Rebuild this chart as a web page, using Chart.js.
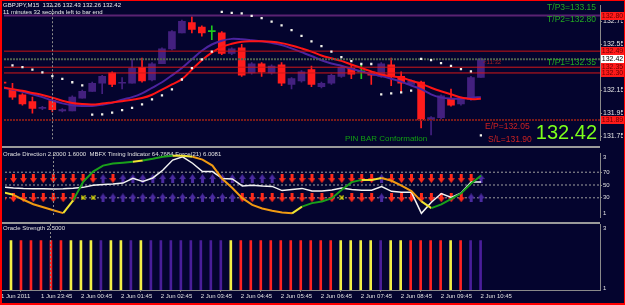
<!DOCTYPE html>
<html><head><meta charset="utf-8">
<script src="https://cdn.jsdelivr.net/npm/chart.js@4.4.1/dist/chart.umd.min.js"></script>
<style>
html,body{margin:0;padding:0;background:#04042e;}
#wrap{position:relative;width:625px;height:305px;background:#04042e;overflow:hidden;}
#wrap canvas{position:absolute;left:0;}
.sep{position:absolute;left:2px;width:598px;height:2px;background:#9a9a9a;}
#frame{position:absolute;left:0;top:0;width:625px;height:305px;box-sizing:border-box;border-left:2px solid #ff0000;border-top:1px solid #ff0000;border-bottom:2px solid #ff0000;border-right:1px solid #ff0000;pointer-events:none;}
</style></head>
<body>
<div id="wrap">
<canvas id="cMain" width="625" height="146" style="top:0"></canvas>
<div class="sep" style="top:146px"></div>
<canvas id="cDir" width="625" height="74" style="top:148px"></canvas>
<div class="sep" style="top:222px"></div>
<canvas id="cStr" width="625" height="79" style="top:224px"></canvas>
<div id="frame"></div>
</div>
<script>
// ================= DATA =================
const symbol = 'GBPJPY', period = 'M15';
const timerText = '11 minutes 32 seconds left to bar end';
const firstBar = -1; // first (partly visible) bar index: 1 Jun 22:45
const tickBars   = [-1, 3, 7, 11, 15, 19, 23, 27, 31, 35, 39, 43, 47];
const tickLabels = ['1 Jun 2011','1 Jun 23:45','2 Jun 00:45','2 Jun 01:45','2 Jun 02:45','2 Jun 03:45','2 Jun 04:45','2 Jun 05:45','2 Jun 06:45','2 Jun 07:45','2 Jun 08:45','2 Jun 09:45','2 Jun 10:45'];
const dayBreakBar = 4; // 2 Jun 00:00

const open  = [132.22,132.15,132.11,132.05,131.99,132.06,131.97,131.97,132.08,132.14,132.21,132.30,132.21,132.21,132.35,132.24,132.38,132.51,132.65,132.74,132.70,132.66,132.65,132.47,132.52,132.30,132.38,132.30,132.37,132.20,132.23,132.33,132.18,132.21,132.27,132.34,132.31,132.30,132.27,132.37,132.27,132.20,132.22,131.89,131.91,132.07,132.03,132.07,132.26];
const high  = [132.23,132.21,132.12,132.09,132.01,132.08,131.99,132.10,132.15,132.22,132.28,132.31,132.26,132.42,132.43,132.39,132.52,132.67,132.76,132.79,132.71,132.71,132.66,132.52,132.55,132.39,132.39,132.37,132.39,132.26,132.32,132.36,132.22,132.29,132.36,132.37,132.37,132.31,132.39,132.43,132.31,132.24,132.23,131.92,132.11,132.16,132.09,132.27,132.43];
const low   = [132.20,132.07,132.02,131.95,131.98,131.96,131.96,131.97,132.08,132.14,132.12,132.18,132.16,132.21,132.22,132.23,132.38,132.50,132.65,132.65,132.62,132.59,132.46,132.46,132.27,132.29,132.27,132.29,132.19,132.16,132.22,132.18,132.17,132.20,132.26,132.25,132.25,132.20,132.26,132.19,132.13,132.19,131.82,131.76,131.90,132.01,132.02,132.06,132.26];
const close = [132.21,132.09,132.03,131.99,132.00,131.98,131.98,132.09,132.14,132.21,132.27,132.20,132.215,132.34,132.23,132.38,132.51,132.66,132.75,132.68,132.65,132.66,132.47,132.51,132.28,132.38,132.31,132.36,132.21,132.25,132.31,132.20,132.21,132.28,132.35,132.29,132.31,132.28,132.38,132.27,132.21,132.23,131.89,131.91,132.10,132.02,132.08,132.26,132.42];

const maRed    = [132.176,132.159,132.144,132.126,132.108,132.085,132.058,132.039,132.029,132.025,132.033,132.043,132.053,132.067,132.081,132.110,132.155,132.200,132.246,132.329,132.411,132.477,132.527,132.554,132.572,132.576,132.576,132.572,132.560,132.539,132.514,132.486,132.452,132.428,132.405,132.374,132.343,132.314,132.287,132.271,132.260,132.233,132.205,132.171,132.141,132.114,132.086,132.072,132.075];
const maPurple = [132.171,132.155,132.136,132.114,132.089,132.060,132.035,132.019,132.012,132.012,132.023,132.039,132.067,132.089,132.122,132.171,132.219,132.279,132.343,132.419,132.494,132.548,132.581,132.597,132.593,132.585,132.576,132.562,132.543,132.514,132.481,132.448,132.411,132.382,132.362,132.337,132.314,132.291,132.273,132.250,132.224,132.191,132.159,132.114,132.085,132.076,132.076,132.085,132.089];
const sar      = [132.389,132.367,132.351,132.329,132.306,132.273,132.248,132.219,132.191,131.936,131.940,131.954,131.976,131.996,132.027,132.070,132.104,132.157,132.243,132.343,132.419,132.486,132.833,132.824,132.819,132.797,132.777,132.748,132.714,132.673,132.624,132.576,132.533,132.486,132.438,132.403,132.378,132.378,132.114,132.122,132.130,132.145,132.422,132.411,132.386,132.362,132.334,132.314,131.756];

const priceTicks  = [131.75, 131.95, 132.15, 132.55, 132.75];
const levelPrices = [132.80, 132.49, 132.42, 132.35, 132.30, 131.89];
const targetNames  = ['T/P3', 'T/P2', 'T/P1', 'E/P', 'S/L'];
const targetValues = [133.15, 132.80, 132.35, 132.05, 131.90];
const patternText = 'PIN BAR Conformation';

// Oracle Direction window
const whiteLine = [46.8,45.4,44.5,44.0,44.0,43.6,44.0,44.9,46.3,49.6,50.6,51.4,53.0,60.5,55.5,61.0,73.0,89.0,94.0,84.0,71.0,71.0,60.0,59.4,48.5,49.8,48.6,47.8,41.3,43.1,44.7,40.6,40.6,42.2,45.4,42.9,41.7,41.7,47.5,40.1,38.7,38.5,5.7,23.1,36.7,30.5,37.8,54.5,54.5];
const timing    = [38.5,34.7,26.9,19.9,15.2,10.6,6.0,26.0,54.8,70.9,80.3,83.5,84.9,86.3,88.2,91.0,94.2,95.6,95.6,94.2,89.6,80.3,59.4,45.4,29.4,19.0,13.4,9.9,7.1,5.7,16.2,21.7,24.3,29.4,42.6,54.5,58.0,58.0,60.8,56.6,48.9,40.6,24.5,13.8,19.7,28.3,37.1,52.2,64.7684];
const timingState = ['Y','O','O','O','O','O','Y','G','G','G','G','G','G','Y','G','G','G','Y','Y','O','O','O','O','O','O','O','O','O','O','Y','G','G','G','G','G','G','Y','Y','O','O','O','O','Y','G','G','G','G','G','G'];
const dirLevels = [70, 50, 30];
const arrowRowValues = [2.2, 1.6];
const arrowsUpper = ['D','D','D','D','D','D','D','D','D','D','U','D','U','U','U','U','U','U','U','U','U','U','U','U','U','U','U','U','D','D','D','D','D','D','D','D','D','D','U','D','D','D','D','D','D','D','D','D','U'];
const arrowsLower = ['D','D','D','D','D','D','D','D','X','X','U','U','U','U','U','U','U','U','U','U','U','U','U','U','D','D','D','D','D','D','D','D','D','D','X','D','D','D','U','D','D','D','D','D','D','D','D','U','U'];
const forceValue = 6.0081;

// Oracle Strength window
const strength = [null,2.5,2.5,2.5,2.5,2.5,2.5,2.5,2.5,2.5,2.5,2.5,2.5,2.5,2.5,2.5,2.5,2.5,2.5,2.5,2.5,2.5,2.5,2.5,2.5,2.5,2.5,2.5,2.5,2.5,2.5,2.5,2.5,2.5,2.5,2.5,2.5,2.5,2.5,2.5,2.5,2.5,2.5,2.5,2.5,2.5,2.5,2.5,2.5];
const strengthState = [null,'Y','R','R','R','R','R','Y','Y','Y','P','Y','Y','P','Y','P','P','P','P','P','P','P','P','Y','R','R','R','R','R','R','R','R','R','R','Y','Y','Y','Y','P','Y','Y','R','R','R','R','Y','R','P','P'];

// ================= STYLE / LAYOUT =================
const FONT = '"Liberation Sans", Arial, sans-serif';
const BULL = '#43207f', BEAR = '#ff1c1c', DOJI = '#1ec81e';
const AXIS = '#8a8a8a';
const xMin = -0.85, xMax = 58.95;
const priceMin = 131.7087, priceMax = 132.8905;
const levelStyle = [
  {c:'#5a2272', w:2, d:[]},
  {c:'#c81414', w:1, d:[]},
  {c:'#4f624f', w:2, d:[2,1]},
  {c:'#d41818', w:1, d:[]},
  {c:'#d41818', w:1, d:[]},
  {c:'#7a1a1a', w:2, d:[2,1]}
];
const boxStyle = [
  {bg:'#ff1a1a', fg:'#6a0000'},{bg:'#ff1a1a', fg:'#6a0000'},{bg:'#ffffff', fg:'#000000'},
  {bg:'#ff1a1a', fg:'#6a0000'},{bg:'#ff1a1a', fg:'#6a0000'},{bg:'#ff1a1a', fg:'#6a0000'}
];
const timingColors = {G:'#1aa01a', Y:'#f0e432', O:'#f09a12'};
const strengthColors = {Y:'#f2f046', R:'#ff2222', P:'#4a1e9a'};

Chart.defaults.font.family = FONT;
const base = {responsive:false, maintainAspectRatio:false, animation:false, devicePixelRatio:1, events:[],
  plugins:{legend:{display:false}, tooltip:{enabled:false}}};
const xs = open.map((_, k) => firstBar + k);
const fmt = v => v.toFixed(2);

function hiddenX(){ return {type:'linear', min:xMin, max:xMax, display:false, offset:false}; }

const dayBreak = {
  id:'dayBreak',
  afterDatasetsDraw(chart){
    const {ctx, chartArea:a, scales:{x}} = chart;
    const px = Math.floor(x.getPixelForValue(dayBreakBar)) + 0.5;
    ctx.save(); ctx.strokeStyle = '#8c8c8c'; ctx.lineWidth = 1; ctx.setLineDash([2,2]);
    ctx.beginPath(); ctx.moveTo(px, a.top); ctx.lineTo(px, a.bottom); ctx.stroke(); ctx.restore();
  }
};

// ---------- main chart ----------
const candleCol = open.map((o,k) => close[k] > o ? BULL : (close[k] < o ? BEAR : DOJI));
const mainDatasets = [
  {type:'bar', label:'wick', data: xs.map((x,k)=>({x, y:[low[k], high[k]]})), backgroundColor:candleCol, barThickness:1, grouped:false, order:9},
  {type:'bar', label:'body', data: xs.map((x,k)=>({x, y:[open[k], close[k]]})), backgroundColor:candleCol, barThickness:7, minBarLength:1, grouped:false, order:8},
  {type:'line', label:'maPurple', data: xs.map((x,k)=>({x, y:maPurple[k]})), borderColor:'#4c24a0', borderWidth:2, pointRadius:0, tension:0.35, order:7},
  {type:'line', label:'maRed', data: xs.map((x,k)=>({x, y:maRed[k]})), borderColor:'#ff1414', borderWidth:2, pointRadius:0, tension:0.35, order:6},
];
levelPrices.forEach((p,i)=>{
  mainDatasets.push({type:'line', data:[{x:xMin,y:p},{x:xMax,y:p}], borderColor:levelStyle[i].c, borderWidth:levelStyle[i].w, borderDash:levelStyle[i].d, pointRadius:0, order:3});
});
mainDatasets.push({type:'line', label:'sar', data: xs.map((x,k)=>({x, y:sar[k]})), showLine:false, pointStyle:'rect', pointRadius:1.6, pointBorderWidth:0, pointBackgroundColor:'#f4f4ec', order:1});

const mainText = {
  id:'mainText',
  afterDraw(chart){
    const {ctx, scales:{y}} = chart; const last = open.length - 1;
    ctx.save();
    ctx.textBaseline = 'middle'; ctx.textAlign = 'left';
    ctx.font = '6px ' + FONT; ctx.fillStyle = '#eeeeee';
    ctx.fillText(`${symbol},${period}  ${fmt(open[last])} ${fmt(high[last])} ${fmt(low[last])} ${fmt(close[last])}`, 3, 5.5);
    ctx.fillText(timerText, 3, 12.5);
    // targets
    ctx.font = '8.5px ' + FONT; ctx.textAlign = 'right'; ctx.fillStyle = '#22aa22';
    ctx.fillText(`${targetNames[0]}=${fmt(targetValues[0])}`, 596, 8);
    ctx.fillText(`${targetNames[1]}=${fmt(targetValues[1])}`, 596, 19.5);
    ctx.fillText(`${targetNames[2]}=${fmt(targetValues[2])}`, 596, 62.5);
    ctx.textAlign = 'left'; ctx.fillStyle = '#cc2222';
    ctx.fillText(`${targetNames[3]}=${fmt(targetValues[3])}`, 485, 127);
    ctx.fillText(`${targetNames[4]}=${fmt(targetValues[4])}`, 488, 139.5);
    ctx.font = '8px ' + FONT; ctx.fillStyle = '#12a012';
    ctx.fillText(patternText, 345, 138.5);
    ctx.font = '6px ' + FONT; ctx.fillStyle = '#a82020';
    ctx.fillText('<11:32', 483, 62.5);
    ctx.font = '20px ' + FONT; ctx.fillStyle = '#7dff1a'; ctx.textAlign = 'right';
    ctx.fillText(fmt(close[last]), 597, 133);
    // price boxes
    ctx.font = '7px ' + FONT; ctx.textAlign = 'center';
    levelPrices.forEach((p,i)=>{
      const py = Math.round(y.getPixelForValue(p));
      ctx.fillStyle = boxStyle[i].bg; ctx.fillRect(601, py-4, 23, 8);
      ctx.fillStyle = boxStyle[i].fg; ctx.fillText(fmt(p), 612.5, py+0.5);
    });
    ctx.restore();
  }
};

new Chart(document.getElementById('cMain'), {
  type:'bar',
  data:{datasets:mainDatasets},
  options:{...base,
    layout:{padding:{left:2, right:2, top:2, bottom:1}},
    scales:{
      x: hiddenX(),
      y: {type:'linear', position:'right', min:priceMin, max:priceMax,
          afterFit:s=>{s.width=23;},
          afterBuildTicks:s=>{s.ticks = priceTicks.map(v=>({value:v}));},
          ticks:{color:'#e6e6e6', font:{size:7, family:FONT}, padding:1, autoSkip:false, callback:v=>Number(v).toFixed(2)},
          grid:{drawOnChartArea:false, drawTicks:true, tickLength:2, color:AXIS},
          border:{display:true, color:AXIS, width:1}}
    }
  },
  plugins:[dayBreak, mainText]
});

// ---------- Oracle Direction ----------
function makeArrow(color, up){
  const c = document.createElement('canvas'); c.width = 7; c.height = 9;
  const g = c.getContext('2d'); g.fillStyle = color;
  if (!up){ g.fillRect(2,0,3,5); g.beginPath(); g.moveTo(0,4); g.lineTo(7,4); g.lineTo(3.5,9); g.closePath(); g.fill(); }
  else    { g.fillRect(2,4,3,5); g.beginPath(); g.moveTo(0,5); g.lineTo(7,5); g.lineTo(3.5,0); g.closePath(); g.fill(); }
  return c;
}
function makeCross(color){
  const c = document.createElement('canvas'); c.width = 5; c.height = 5;
  const g = c.getContext('2d'); g.strokeStyle = color; g.lineWidth = 1.2;
  g.beginPath(); g.moveTo(0.5,0.5); g.lineTo(4.5,4.5); g.moveTo(4.5,0.5); g.lineTo(0.5,4.5); g.stroke();
  return c;
}
const arrowImg = {D:makeArrow('#ff2a1a', false), U:makeArrow('#4a2aa0', true), X:makeCross('#e8e800')};

const dirDatasets = [];
dirLevels.forEach(v=>{
  dirDatasets.push({type:'line', data:[{x:xMin,y:v},{x:xMax,y:v}], borderColor:'#a0a0a0', borderWidth:1, borderDash:[2,2], pointRadius:0, order:9});
});
[arrowsUpper, arrowsLower].forEach((row, r)=>{
  dirDatasets.push({type:'line', yAxisID:'y2', data: row.map((c,k)=>({x:firstBar+k, y:arrowRowValues[r]})), showLine:false,
    pointStyle: row.map(c=>arrowImg[c]), pointRadius:4, order:8});
});
dirDatasets.push({type:'line', data: xs.map((x,k)=>({x, y:whiteLine[k]})), borderColor:'#f2f2f2', borderWidth:1.5, pointRadius:0, tension:0, order:3});
dirDatasets.push({type:'line', data: xs.map((x,k)=>({x, y:timing[k]})), borderWidth:2, pointRadius:0, tension:0, order:2,
  segment:{borderColor: ctx => timingColors[timingState[ctx.p0DataIndex]]}, borderColor:timingColors.G});

const dirText = {
  id:'dirText',
  beforeDatasetsDraw(chart){
    const {ctx} = chart; const last = timing.length - 1;
    ctx.save(); ctx.font = '6px ' + FONT; ctx.fillStyle = '#e0e0e0'; ctx.textBaseline = 'middle'; ctx.textAlign = 'left';
    ctx.fillText(`Oracle Direction ${arrowRowValues[0].toFixed(4)} ${arrowRowValues[1].toFixed(4)}  MBFX Timing Indicator ${timing[last].toFixed(4)} Force(21) ${forceValue.toFixed(4)}`, 3, 6.5);
    ctx.restore();
  },
  afterDraw(chart){
    const {ctx, scales:{y2}} = chart;
    ctx.save(); ctx.font = '6px ' + FONT; ctx.fillStyle = '#e0e0e0'; ctx.textAlign = 'left';
    ctx.textBaseline = 'top'; ctx.fillText('3', 603, y2.getPixelForValue(3) + 1);
    ctx.textBaseline = 'bottom'; ctx.fillText('1', 603, y2.getPixelForValue(1) - 1);
    ctx.restore();
  }
};

new Chart(document.getElementById('cDir'), {
  type:'line',
  data:{datasets:dirDatasets},
  options:{...base,
    layout:{padding:{left:2, right:2, top:1, bottom:1}},
    scales:{
      x: hiddenX(),
      y: {type:'linear', position:'right', min:0, max:100,
          afterFit:s=>{s.width=23;},
          afterBuildTicks:s=>{s.ticks = dirLevels.map(v=>({value:v}));},
          ticks:{color:'#e0e0e0', font:{size:6, family:FONT}, padding:1, autoSkip:false},
          grid:{drawOnChartArea:false, drawTicks:true, tickLength:2, color:AXIS},
          border:{display:true, color:AXIS, width:1}},
      y2:{type:'linear', display:false, min:1, max:3}
    }
  },
  plugins:[dayBreak, dirText]
});

// ---------- Oracle Strength ----------
const strText = {
  id:'strText',
  beforeDatasetsDraw(chart){
    const {ctx} = chart; const last = strength.length - 1;
    ctx.save(); ctx.font = '6px ' + FONT; ctx.fillStyle = '#e0e0e0'; ctx.textBaseline = 'middle'; ctx.textAlign = 'left';
    ctx.fillText(`Oracle Strength ${strength[last].toFixed(4)}`, 3, 4.5);
    ctx.restore();
  },
  afterDraw(chart){
    const {ctx, scales:{y}} = chart;
    ctx.save(); ctx.font = '6px ' + FONT; ctx.fillStyle = '#e0e0e0'; ctx.textAlign = 'left';
    ctx.textBaseline = 'top'; ctx.fillText('3', 603, y.getPixelForValue(3) + 1);
    ctx.textBaseline = 'bottom'; ctx.fillText('1', 603, y.getPixelForValue(1) + 1);
    ctx.restore();
  }
};

new Chart(document.getElementById('cStr'), {
  type:'bar',
  data:{datasets:[{type:'bar', data: xs.map((x,k)=>({x, y:strength[k]})),
    backgroundColor: strengthState.map(s => s ? strengthColors[s] : 'rgba(0,0,0,0)'), barThickness:2, grouped:false}]},
  options:{...base,
    layout:{padding:{left:2, right:2, top:0, bottom:0}},
    scales:{
      x: {type:'linear', min:xMin, max:xMax, position:'bottom', offset:false,
          afterFit:s=>{s.height=13;},
          afterBuildTicks:s=>{s.ticks = tickBars.map(v=>({value:v}));},
          ticks:{color:'#e0e0e0', font:{size:6, family:FONT}, padding:1, autoSkip:false, maxRotation:0, minRotation:0, align:'start',
                 callback:(v,i)=>tickLabels[i]},
          grid:{drawOnChartArea:false, drawTicks:true, tickLength:2, color:AXIS},
          border:{display:true, color:AXIS, width:1}},
      y: {type:'linear', position:'right', min:1, max:3,
          afterFit:s=>{s.width=23;},
          ticks:{display:false},
          grid:{drawOnChartArea:false, drawTicks:false},
          border:{display:true, color:AXIS, width:1}}
    }
  },
  plugins:[dayBreak, strText]
});
</script>
</body></html>
